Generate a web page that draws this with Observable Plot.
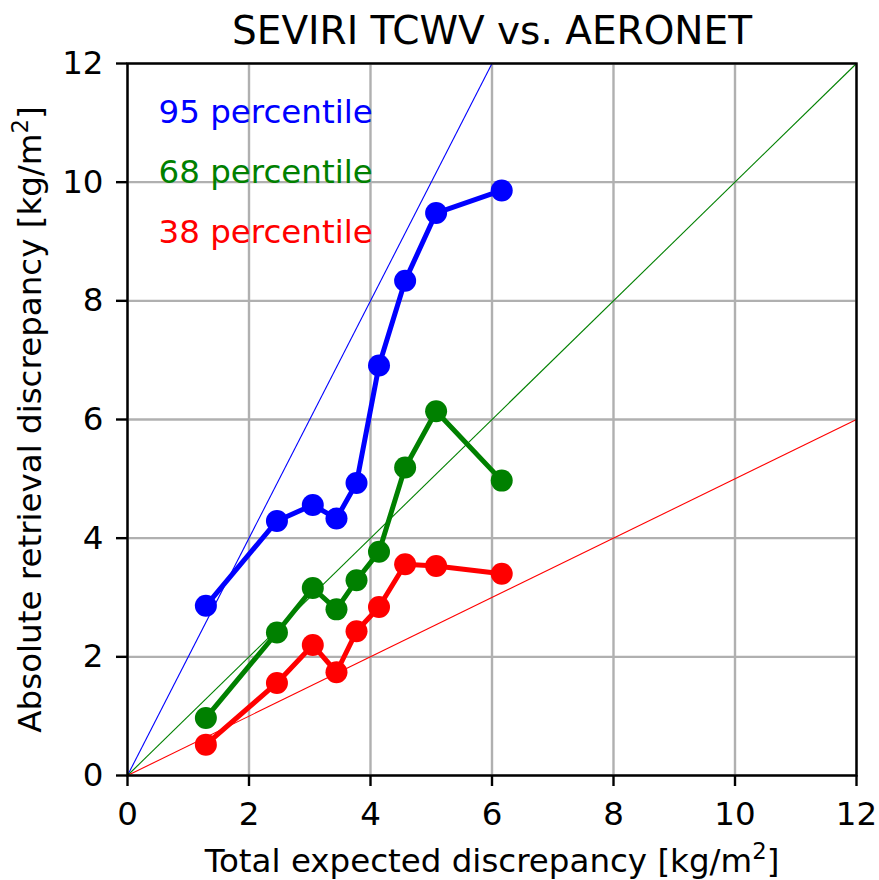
<!DOCTYPE html>
<html>
<head>
<meta charset="utf-8">
<script src="https://cdn.jsdelivr.net/npm/d3@7"></script>
<script src="https://cdn.jsdelivr.net/npm/@observablehq/plot@0.6"></script>
<style>
  html, body { margin: 0; padding: 0; background: #fff; }
  #chart svg { font-family: "DejaVu Sans", sans-serif; display: block; }
</style>
</head>
<body>
<div id="chart"></div>
<script>
// ---- data ----
const expected = [1.29, 2.46, 3.05, 3.44, 3.77, 4.14, 4.57, 5.08, 6.16];
const p95 = [2.86, 4.29, 4.56, 4.33, 4.93, 6.91, 8.34, 9.48, 9.86];
const p68 = [0.97, 2.41, 3.16, 2.80, 3.29, 3.77, 5.19, 6.14, 4.97];
const p38 = [0.52, 1.56, 2.20, 1.74, 2.43, 2.84, 3.56, 3.53, 3.40];
const seriesNames = ["95 percentile", "68 percentile", "38 percentile"];
const seriesColors = ["#0000ff", "#008000", "#ff0000"];
const refSlopes = [2, 1, 0.5];
const ticks = [0, 2, 4, 6, 8, 10, 12];
const title = "SEVIRI TCWV vs. AERONET";
const xLabel = "Total expected discrepancy [kg/m²]";
const yLabel = "Absolute retrieval discrepancy [kg/m²]";

const maxV = 12;
const seriesVals = [p95, p68, p38];
const rows = [];
seriesVals.forEach((vals, s) => vals.forEach((v, i) => rows.push({series: seriesNames[s], x: expected[i], y: v})));
const refs = refSlopes.map((k, s) => ({series: seriesNames[s], x1: 0, y1: 0, x2: Math.min(maxV, maxV / k), y2: Math.min(maxV, maxV / k) * k}));

const color = {domain: seriesNames, range: seriesColors};
const FS = 32.5;

const plot = Plot.plot({
  width: 879,
  height: 880,
  marginLeft: 127,
  marginRight: 23,
  marginTop: 63,
  marginBottom: 105,
  style: {fontFamily: "DejaVu Sans, sans-serif", background: "#fff", color: "#000"},
  x: {domain: [0, maxV]},
  y: {domain: [0, maxV]},
  color,
  marks: [
    Plot.gridX(ticks, {stroke: "#b0b0b0", strokeOpacity: 1, strokeWidth: 2.4}),
    Plot.gridY(ticks, {stroke: "#b0b0b0", strokeOpacity: 1, strokeWidth: 2.4}),
    Plot.link(refs, {x1: "x1", y1: "y1", x2: "x2", y2: "y2", stroke: "series", strokeWidth: 1.1}),
    Plot.line(rows, {x: "x", y: "y", z: "series", stroke: "series", strokeWidth: 5, strokeLinejoin: "round"}),
    Plot.dot(rows, {x: "x", y: "y", fill: "series", r: 11}),
    Plot.frame({stroke: "#000", strokeWidth: 2.4}),
    Plot.axisX(ticks, {tickSize: 11, tickPadding: 15, fontSize: FS, strokeWidth: 2.4, label: null, tickFormat: d => String(d)}),
    Plot.axisY(ticks, {tickSize: 11, tickPadding: 13, fontSize: FS, strokeWidth: 2.4, label: null, tickFormat: d => String(d)}),
    ...seriesNames.map((name, i) => Plot.text([name], {
      text: d => d, frameAnchor: "top-left", textAnchor: "start", lineAnchor: "bottom",
      dx: 31, dy: 59 + i * 60.3, fill: seriesColors[i], fontSize: FS
    })),
    Plot.text([title], {text: d => d, frameAnchor: "top", textAnchor: "middle", lineAnchor: "bottom", dy: -20, fontSize: 39, fill: "#000"}),
    Plot.text([xLabel], {text: d => d, frameAnchor: "bottom", textAnchor: "middle", lineAnchor: "bottom", dy: 96, fontSize: FS, fill: "#000"}),
    Plot.text([yLabel], {text: d => d, frameAnchor: "left", textAnchor: "middle", lineAnchor: "bottom", rotate: -90, dx: -87, fontSize: FS, fill: "#000"})
  ]
});

// render "²" as a mathtext-like superscript
plot.querySelectorAll("text").forEach(t => {
  const s = t.textContent;
  if (s.includes("²") && t.children.length === 0) {
    const [a, b] = s.split("²");
    t.textContent = "";
    const ns = "http://www.w3.org/2000/svg";
    const t1 = document.createElementNS(ns, "tspan"); t1.textContent = a;
    const t2 = document.createElementNS(ns, "tspan"); t2.textContent = "2";
    t2.setAttribute("font-size", "0.7em"); t2.setAttribute("dy", "-0.55em");
    const t3 = document.createElementNS(ns, "tspan"); t3.textContent = b;
    t3.setAttribute("dy", "0.385em");
    t.append(t1, t2, t3);
  }
});
document.getElementById("chart").appendChild(plot);
</script>
</body>
</html>
